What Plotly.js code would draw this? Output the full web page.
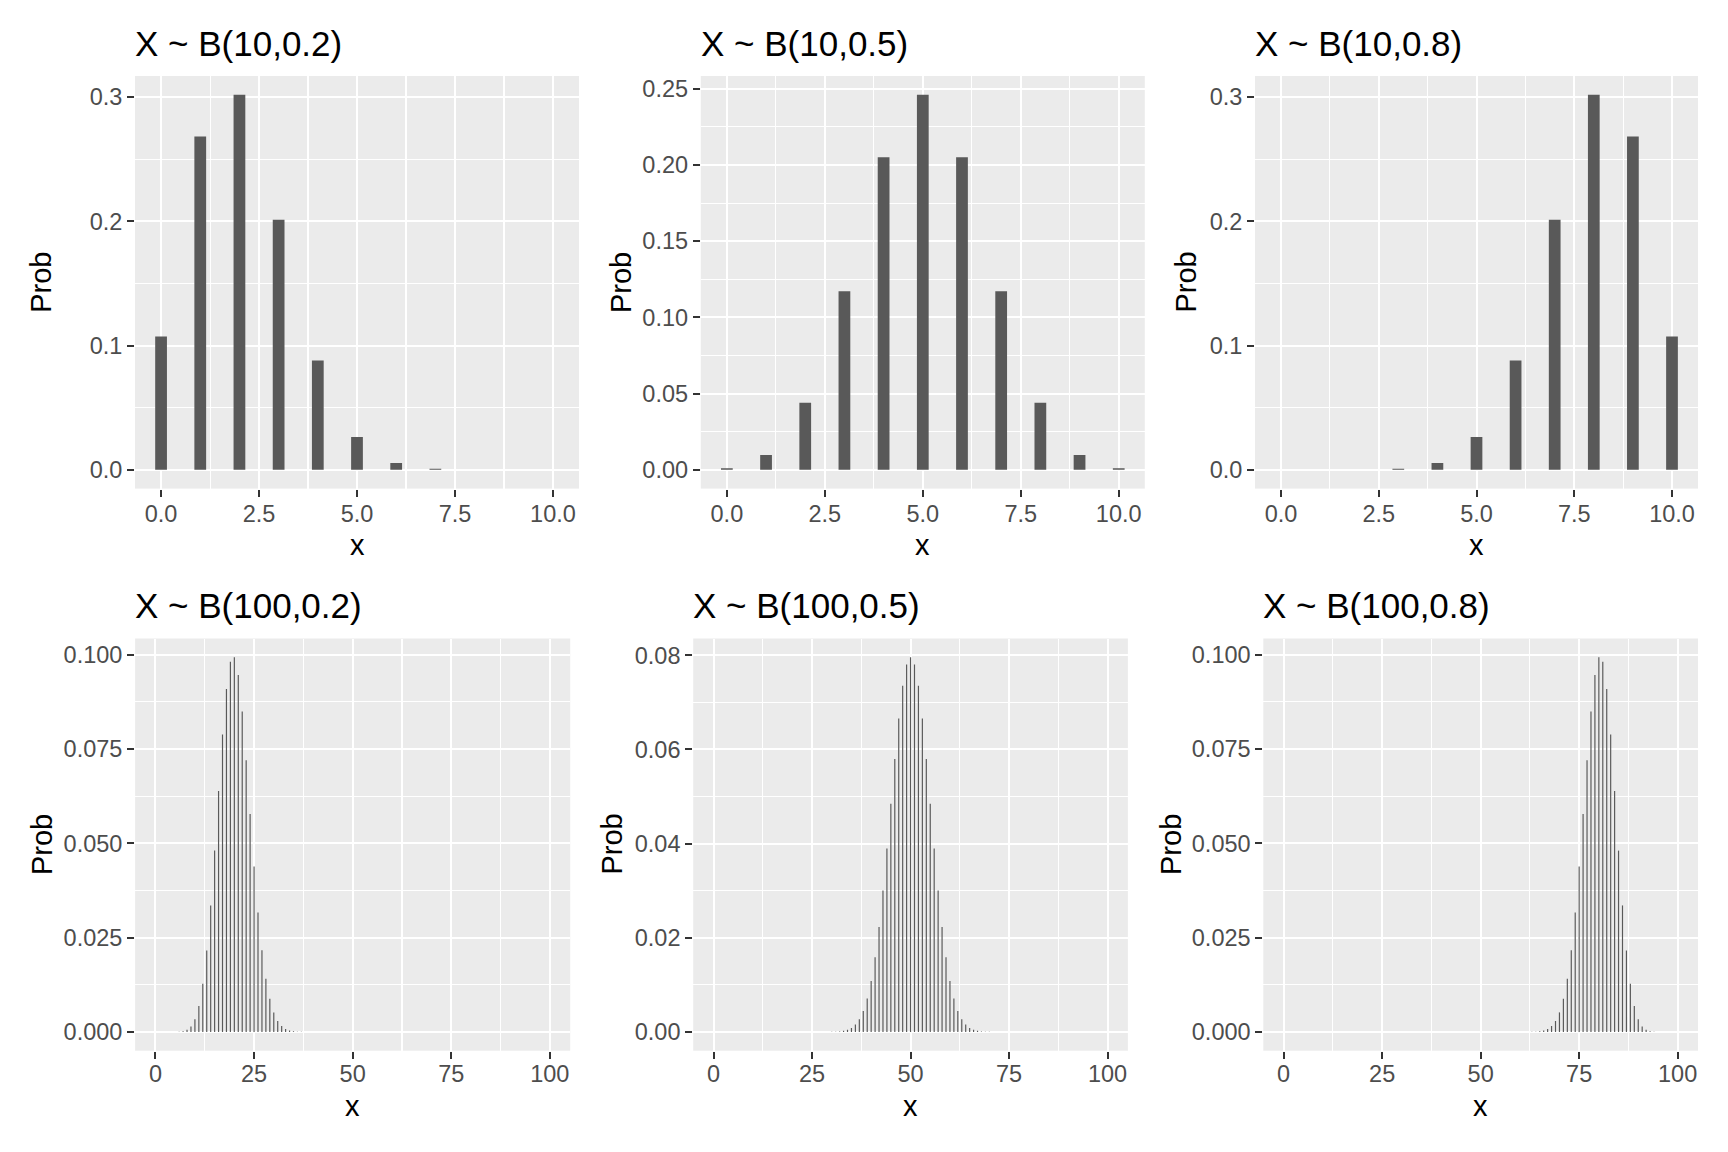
<!DOCTYPE html>
<html>
<head>
<meta charset="utf-8">
<script src="https://cdn.plot.ly/plotly-3.0.1.min.js"></script>
<style>html,body{margin:0;padding:0;background:#fff;}#chart{width:1728px;height:1152px;}</style>
</head>
<body>
<div id="chart"></div>
<script>
// ---- data ----
const titles = ["X ~ B(10,0.2)", "X ~ B(10,0.5)", "X ~ B(10,0.8)", "X ~ B(100,0.2)", "X ~ B(100,0.5)", "X ~ B(100,0.8)"];

const k10 = [0, 1, 2, 3, 4, 5, 6, 7, 8, 9, 10];
const prob_10_02 = [0.1074, 0.2684, 0.3020, 0.2013, 0.0881, 0.0264, 0.0055, 0.00079, 0.000074, 0.0000041, 0.0000001];
const prob_10_05 = [0.00098, 0.00977, 0.04395, 0.11719, 0.20508, 0.24609, 0.20508, 0.11719, 0.04395, 0.00977, 0.00098];
const prob_10_08 = [0.0000001, 0.0000041, 0.000074, 0.00079, 0.0055, 0.0264, 0.0881, 0.2013, 0.3020, 0.2684, 0.1074];

const k100_02 = [4, 5, 6, 7, 8, 9, 10, 11, 12, 13, 14, 15, 16, 17, 18, 19, 20, 21, 22, 23, 24, 25, 26, 27, 28, 29, 30, 31, 32, 33, 34, 35, 36, 37, 38, 39, 40];
const prob_100_02 = [0.0000031, 0.0000150, 0.0000593, 0.000199, 0.000578, 0.001478, 0.003363, 0.006878, 0.012754, 0.021583,
  0.033531, 0.048061, 0.063832, 0.078851, 0.090898, 0.098074, 0.099300, 0.094572, 0.084900, 0.071980,
  0.057734, 0.043878, 0.031643, 0.021681, 0.014132, 0.008771, 0.005190, 0.002930, 0.001579, 0.000814,
  0.000401, 0.000189, 0.0000853, 0.0000369, 0.0000153, 0.0000061, 0.0000023];

const k100_05 = [30, 31, 32, 33, 34, 35, 36, 37, 38, 39, 40, 41, 42, 43, 44, 45, 46, 47, 48, 49, 50, 51, 52, 53, 54, 55, 56, 57, 58, 59, 60, 61, 62, 63, 64, 65, 66, 67, 68, 69, 70];
const prob_100_05 = [0.0000232, 0.0000523, 0.000113, 0.000232, 0.000458, 0.000864, 0.001560, 0.002698, 0.004473, 0.007111,
  0.010844, 0.015869, 0.022292, 0.030069, 0.038952, 0.048474, 0.057958, 0.066590, 0.073527, 0.078029,
  0.079589,
  0.078029, 0.073527, 0.066590, 0.057958, 0.048474, 0.038952, 0.030069, 0.022292, 0.015869, 0.010844,
  0.007111, 0.004473, 0.002698, 0.001560, 0.000864, 0.000458, 0.000232, 0.000113, 0.0000523, 0.0000232];

const k100_08 = [60, 61, 62, 63, 64, 65, 66, 67, 68, 69, 70, 71, 72, 73, 74, 75, 76, 77, 78, 79, 80, 81, 82, 83, 84, 85, 86, 87, 88, 89, 90, 91, 92, 93, 94, 95, 96];
const prob_100_08 = [0.0000023, 0.0000061, 0.0000153, 0.0000369, 0.0000853, 0.000189, 0.000401, 0.000814, 0.001579, 0.002930,
  0.005190, 0.008771, 0.014132, 0.021681, 0.031643, 0.043878, 0.057734, 0.071980, 0.084900, 0.094572,
  0.099300, 0.098074, 0.090898, 0.078851, 0.063832, 0.048061, 0.033531, 0.021583, 0.012754, 0.006878,
  0.003363, 0.001478, 0.000578, 0.000199, 0.0000593, 0.0000150, 0.0000031];

const xTitle = "x";
const yTitle = "Prob";

// ---- styling / layout ----
const W = 1728, H = 1152;
const FONT = "Liberation Sans, Arial, sans-serif";
const BAR = "#595959";

// panel pixel boxes [left, right, top, bottom]
const boxes = [
  [135.0, 579.0, 76.0, 488.6],
  [700.8, 1144.8, 76.0, 488.6],
  [1255.0, 1698.0, 76.0, 488.6],
  [135.1, 570.2, 638.5, 1050.7],
  [693.2, 1127.9, 638.5, 1050.7],
  [1263.3, 1698.0, 638.5, 1050.7]
];
const yLabX = [41.5, 620.8, 1186.3, 41.5, 612.0, 1170.4];

const series = [
  [k10, prob_10_02], [k10, prob_10_05], [k10, prob_10_08],
  [k100_02, prob_100_02], [k100_05, prob_100_05], [k100_08, prob_100_08]
];

const xr10 = [-0.665, 10.665], xr100 = [-5.165, 105.165];
const yRanges = [
  [-0.0151, 0.31709], [-0.012305, 0.258398], [-0.0151, 0.31709],
  [-0.004965, 0.104265], [-0.003979, 0.083569], [-0.004965, 0.104265]
];
const yDtick = [0.1, 0.05, 0.1, 0.025, 0.02, 0.025];
const yFmt = ['.1f', '.2f', '.1f', '.3f', '.2f', '.3f'];

const traces = [];
const layout = {
  width: W, height: H,
  margin: {l: 0, r: 0, t: 0, b: 0, pad: 0},
  paper_bgcolor: '#FFFFFF',
  plot_bgcolor: '#EBEBEB',
  showlegend: false,
  font: {family: FONT, color: '#000000'},
  annotations: []
};

function axisCommon() {
  return {
    showgrid: true, gridcolor: '#FFFFFF', gridwidth: 2,
    zeroline: false, showline: false,
    ticks: 'outside', ticklen: 7, tickwidth: 2, tickcolor: '#333333',
    tickfont: {family: FONT, size: 23.5, color: '#4D4D4D'},
    tickmode: 'linear', tick0: 0,
    fixedrange: true
  };
}

for (let i = 0; i < 6; i++) {
  const n = i + 1;
  const xa = 'x' + (n === 1 ? '' : n), ya = 'y' + (n === 1 ? '' : n);
  const xkey = 'xaxis' + (n === 1 ? '' : n), ykey = 'yaxis' + (n === 1 ? '' : n);
  const b = boxes[i];
  traces.push({
    type: 'bar', x: series[i][0], y: series[i][1], width: 0.3,
    marker: {color: BAR, line: {width: 0}},
    xaxis: xa, yaxis: ya, hoverinfo: 'skip'
  });
  const top = i < 3;
  const xaxis = Object.assign(axisCommon(), {
    domain: [b[0] / W, b[1] / W], anchor: ya,
    range: top ? xr10 : xr100,
    dtick: top ? 2.5 : 25,
    tickformat: top ? '.1f' : 'd',
    ticklabelstandoff: top ? -3 : -5,
    minor: {dtick: top ? 1.25 : 12.5, tick0: 0, showgrid: true, gridcolor: '#FFFFFF', gridwidth: 1.1, ticks: ''}
  });
  const yaxis = Object.assign(axisCommon(), {
    domain: [1 - b[3] / H, 1 - b[2] / H], anchor: xa,
    range: yRanges[i],
    dtick: yDtick[i],
    tickformat: yFmt[i],
    minor: {dtick: yDtick[i] / 2, tick0: 0, showgrid: true, gridcolor: '#FFFFFF', gridwidth: 1.1, ticks: ''}
  });
  layout[xkey] = xaxis;
  layout[ykey] = yaxis;

  // panel title
  layout.annotations.push({
    text: titles[i], xref: 'paper', yref: 'paper',
    x: (b[0] - 2) / W, y: 1 - (top ? 44 : 605) / H,
    xanchor: 'left', yanchor: 'middle', showarrow: false,
    font: {family: FONT, size: 35, color: '#000000'}
  });
  // x axis title
  layout.annotations.push({
    text: xTitle, xref: 'paper', yref: 'paper',
    x: ((b[0] + b[1]) / 2) / W, y: 1 - (top ? 545 : 1105.5) / H,
    xanchor: 'center', yanchor: 'middle', showarrow: false,
    font: {family: FONT, size: 29, color: '#000000'}
  });
  // y axis title
  layout.annotations.push({
    text: yTitle, xref: 'paper', yref: 'paper', textangle: -90,
    x: yLabX[i] / W, y: 1 - ((b[2] + b[3]) / 2) / H,
    xanchor: 'center', yanchor: 'middle', showarrow: false,
    font: {family: FONT, size: 29, color: '#000000'}
  });
}

Plotly.newPlot('chart', traces, layout, {staticPlot: true, displayModeBar: false});
</script>
</body>
</html>
